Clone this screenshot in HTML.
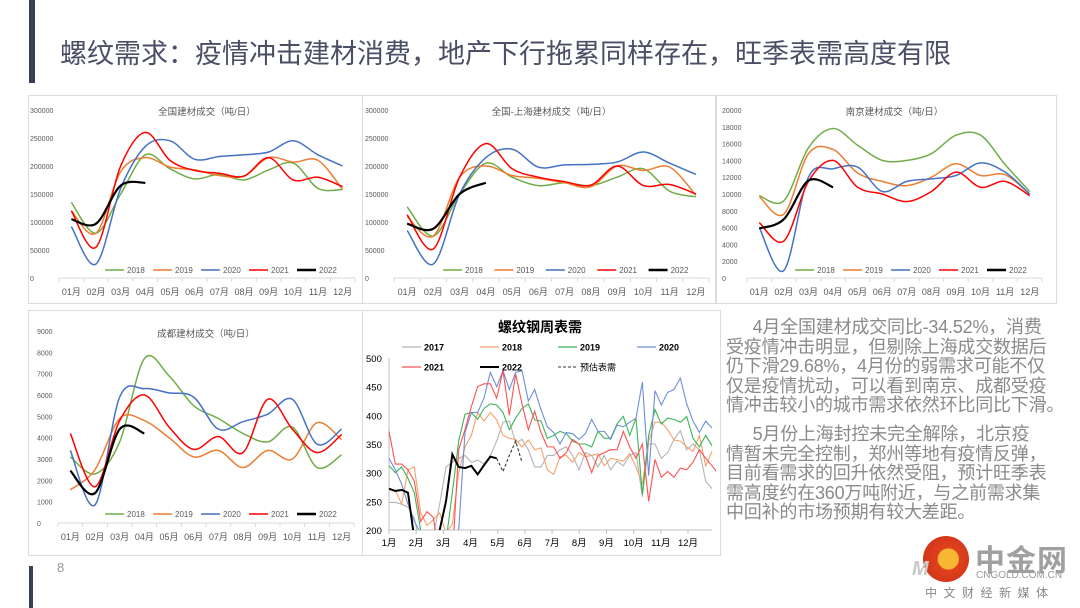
<!DOCTYPE html>
<html><head><meta charset="utf-8">
<style>
body{margin:0;width:1080px;height:608px;background:#fff;overflow:hidden;position:relative;font-family:"Liberation Sans","Noto Sans CJK SC",sans-serif}
.abs{position:absolute}
#title{left:60px;top:32px;font-size:27px;color:#4a4f66;white-space:nowrap;font-family:"Liberation Sans","Noto Sans CJK SC",sans-serif}
#txt{left:726px;top:318px;font-size:18px;line-height:19.6px;color:#8a8a8a;white-space:nowrap;letter-spacing:-0.2px}
.panel{position:absolute;border:1px solid #dcdcdc;background:#fff}
</style></head><body>
<div class="abs" style="left:29px;top:0;width:6px;height:83px;background:#3a3f58"></div>
<div class="abs" style="left:29px;top:566px;width:4px;height:42px;background:#3a3f58"></div>
<div id="title" class="abs">螺纹需求：疫情冲击建材消费，地产下行拖累同样存在，旺季表需高度有限</div>
<div class="panel" style="left:28px;top:95px;width:333px;height:207px"></div>
<div class="panel" style="left:362px;top:95px;width:352px;height:207px"></div>
<div class="panel" style="left:716px;top:95px;width:339px;height:207px"></div>
<div class="panel" style="left:28px;top:310px;width:333px;height:244px"></div>
<div class="panel" style="left:362px;top:310px;width:357px;height:244px"></div>
<svg class="abs" id="svg" style="left:0;top:0" width="1080" height="608"></svg>
<div id="txt" class="abs">&emsp;&ensp;4月全国建材成交同比-34.52%，消费<br>受疫情冲击明显，但剔除上海成交数据后<br>仍下滑29.68%，4月份的弱需求可能不仅<br>仅是疫情扰动，可以看到南京、成都受疫<br>情冲击较小的城市需求依然环比同比下滑。<div style="height:9px"></div>&emsp;&ensp;5月份上海封控未完全解除，北京疫<br>情暂未完全控制，郑州等地有疫情反弹，<br>目前看需求的回升依然受阻，预计旺季表<br>需高度约在360万吨附近，与之前需求集<br>中回补的市场预期有较大差距。</div>
<div class="abs" style="left:57px;top:560px;font-size:13px;color:#999">8</div>
<div class="abs" style="left:923px;top:536px;width:46px;height:46px;border-radius:50%;background:radial-gradient(circle at 55% 50%,#f7b733 0 30%,#e0401c 32%,#c8301a 100%)"></div>
<div class="abs" style="left:912px;top:558px;font-size:20px;font-weight:bold;font-style:italic;color:#c9c9c9">M</div>
<div class="abs" style="left:975px;top:536px;font-size:30px;font-weight:bold;color:#a0a0a0;letter-spacing:1px">中金网</div>
<div class="abs" style="left:976px;top:570px;font-size:10px;color:#999">CNGOLD.COM.CN</div>
<div class="abs" style="left:925px;top:584px;font-size:12px;color:#888;letter-spacing:6.5px">中文财经新媒体</div>
<script>
const months=["01月","02月","03月","04月","05月","06月","07月","08月","09月","10月","11月","12月"];
const years=["2018","2019","2020","2021","2022"];
const colors=["#70ad47","#ed7d31","#4472c4","#ff0000","#000000"];
const natTicks=[0,50000,100000,150000,200000,250000,300000];
const nat2018=[135,80,150,220,195,177,185,175,193,205,160,158];
const nat2019=[120,80,190,215,198,193,183,182,215,207,210,158];
const nat2020=[92,25,160,235,245,212,217,220,225,245,220,200];
const nat2021=[120,55,200,260,210,192,187,182,215,175,180,163];
const nat2022=[105,97,165,170];
const exs2018=[127,75,150,205,180,165,170,165,180,195,155,145];
const exs2019=[110,75,180,200,183,178,170,163,200,192,198,148];
const exs2020=[85,25,150,215,230,198,202,203,207,225,205,185];
const exs2021=[113,52,180,240,195,180,172,166,200,165,167,150];
const exs2022=[97,88,150,170];
const njTicks=[0,2000,4000,6000,8000,10000,12000,14000,16000,18000,20000];
const nj2018=[9.8,9.2,15.5,17.8,15.8,14.0,14.0,14.8,17.0,17.0,13.5,10.3];
const nj2019=[9.7,7.6,14.8,15.3,12.5,11.5,11.0,12.0,13.6,12.2,12.3,10.0];
const nj2020=[6.0,0.9,12.0,13.0,13.2,10.3,11.5,11.8,12.2,13.7,12.6,10.0];
const nj2021=[6.6,4.4,11.5,14.0,10.8,10.0,9.1,10.3,12.6,10.8,11.5,9.8];
const nj2022=[5.9,7.0,11.6,10.8];
const cdTicks=[0,1000,2000,3000,4000,5000,6000,7000,8000,9000];
const cd2018=[3.1,2.3,3.8,7.7,6.9,5.5,4.9,4.2,3.8,4.5,2.6,3.2];
const cd2019=[1.55,2.5,4.9,4.8,4.0,3.1,3.4,2.6,3.4,3.0,4.7,3.9];
const cd2020=[3.4,0.85,5.9,6.3,6.1,5.9,4.4,4.75,5.1,5.8,3.7,4.4];
const cd2021=[4.2,1.7,4.8,6.0,4.5,3.45,4.05,3.3,5.8,4.4,3.3,4.15];
const cd2022=[2.45,1.4,4.4,4.2];
// weekly chart
const wkMonths=["1月","2月","3月","4月","5月","6月","7月","8月","9月","10月","11月","12月"];
const wkTicks=[200,250,300,350,400,450,500];
const wkNames=["2017","2018","2019","2020","2021","2022"];
const wkColors=["#b4b4b4","#f4a26b","#3cb55a","#6f8fd4","#ff5050","#000000"];
const w2017=[248,248,245,240,220,170,175,190,245,310,318,325,330,318,322,315,330,355,388,390,352,358,340,310,310,330,330,340,345,330,305,335,330,310,330,305,320,312,330,335,258,350,350,325,335,358,373,340,350,340,285,272];
const w2018=[270,270,245,305,310,230,208,218,230,195,210,300,345,365,405,390,405,392,365,360,358,345,357,340,343,305,297,328,330,318,335,328,330,333,312,325,323,320,333,310,280,355,388,388,375,357,355,345,337,365,312,337];
const w2019=[312,300,310,290,265,200,160,130,120,180,265,355,402,405,393,412,420,418,405,375,395,412,420,392,390,360,365,372,368,355,350,350,345,372,360,360,385,398,365,395,262,365,410,385,395,393,388,398,360,345,365,347];
const w2020=[325,305,280,245,215,195,150,120,100,120,150,200,370,405,405,430,475,450,478,445,475,478,425,445,410,380,370,350,370,368,358,368,393,372,372,358,383,380,388,395,458,295,443,418,440,445,465,420,390,370,390,378];
const w2021=[372,315,315,305,285,215,232,222,150,100,150,340,375,415,450,455,455,430,478,400,472,420,375,407,370,345,345,325,335,358,350,330,300,330,335,340,340,372,345,325,350,250,323,292,302,292,308,305,318,340,325,312,298];
const w2022=[272,268,270,265,185,150,120,100,200,250,332,310,308,312,297,313,328,325];
const wFcst=[325,302,330,355,318];

const NS="http://www.w3.org/2000/svg";
const svg=document.getElementById('svg');
function mk(tag,attrs,parent){const e=document.createElementNS(NS,tag);for(const k in attrs)e.setAttribute(k,attrs[k]);(parent||svg).appendChild(e);return e;}
function smooth(pts){let d="M"+pts[0][0]+","+pts[0][1];for(let i=0;i<pts.length-1;i++){const p0=pts[i-1]||pts[i],p1=pts[i],p2=pts[i+1],p3=pts[i+2]||p2;const t=6;d+=" C"+(p1[0]+(p2[0]-p0[0])/t)+","+(p1[1]+(p2[1]-p0[1])/t)+" "+(p2[0]-(p3[0]-p1[0])/t)+","+(p2[1]-(p3[1]-p1[1])/t)+" "+p2[0]+","+p2[1];}return d;}
function txt(x,y,s,size,fill,anchor,parent,extra){const t=mk('text',Object.assign({x:x,y:y,'font-size':size,fill:fill,'text-anchor':anchor||'start','font-family':'Liberation Sans, Noto Sans CJK SC, sans-serif'},extra||{}),parent);t.textContent=s;return t;}

function monthly(cfg){
  const g=mk('g',{});
  
  
  const bw=(cfg.x1-cfg.x0)/12;
  const X=i=>cfg.x0+bw*(i+0.5);
  const Y=v=>cfg.yb-(v/cfg.max)*(cfg.yb-cfg.yt);
  cfg.ticks.forEach(t=>{const l=txt(cfg.lx,Y(t)+3,String(t),7,'#595959','start',g);});
  mk('line',{x1:cfg.x0,y1:cfg.yb,x2:cfg.x1,y2:cfg.yb,stroke:'#d9d9d9','stroke-width':1},g);
  for(let i=0;i<=12;i++)mk('line',{x1:cfg.x0+bw*i,y1:cfg.yb,x2:cfg.x0+bw*i,y2:cfg.yb+4,stroke:'#d9d9d9'},g);
  months.forEach((m,i)=>{const l=txt(X(i),cfg.yb+17,m,9,'#595959','middle',g);});
  const tt=txt((cfg.x0+cfg.x1)/2,cfg.ty,cfg.title,9.5,'#595959','middle',g);
  
  cfg.series.forEach((s,k)=>{
    const p=mk('path',{d:smooth(s.map((v,i)=>[X(i),Y(v*cfg.unit)])),fill:'none',stroke:colors[k],'stroke-width':k==4?2.2:1.5},g);
    
    
  });
  const lw=(cfg.legX1-cfg.legX0)/5;
  years.forEach((y,k)=>{const lx=cfg.legX0+lw*k;
    const ln=mk('line',{x1:lx,y1:cfg.legY,x2:lx+19,y2:cfg.legY,stroke:colors[k],'stroke-width':k==4?2.5:1.6},g);
    
    const lt=txt(lx+22,cfg.legY+3,y,8,'#595959','start',g);});
}
monthly({name:'chart-national',title:'全国建材成交（吨/日）',x0:59,x1:355,yt:110,yb:278,max:300000,unit:1000,ticks:natTicks,lx:30,ty:115,legX0:105,legX1:345,legY:270,series:[nat2018,nat2019,nat2020,nat2021,nat2022]});
monthly({name:'chart-ex-shanghai',title:'全国-上海建材成交（吨/日）',x0:394,x1:709,yt:110,yb:278,max:300000,unit:1000,ticks:natTicks,lx:365,ty:115,legX0:443,legX1:700,legY:270,series:[exs2018,exs2019,exs2020,exs2021,exs2022]});
monthly({name:'chart-nanjing',title:'南京建材成交（吨/日）',x0:747,x1:1042,yt:110,yb:278,max:20000,unit:1000,ticks:njTicks,lx:722,ty:115,legX0:795,legX1:1035,legY:270,series:[nj2018,nj2019,nj2020,nj2021,nj2022]});
monthly({name:'chart-chengdu',title:'成都建材成交（吨/日）',x0:58,x1:354,yt:331,yb:523,max:9000,unit:1000,ticks:cdTicks,lx:37,ty:337,legX0:105,legX1:345,legY:514,series:[cd2018,cd2019,cd2020,cd2021,cd2022]});

// weekly chart
(function(){
  const g=mk('g',{});
  
  
  const x0=389,x1=712,yt=358,yb=530;
  const X=i=>x0+i*(x1-x0)/51;
  const Y=v=>yb-(v-200)/300*(yb-yt);
  const defs=mk('defs',{},g);const cp=mk('clipPath',{id:'wclip'},defs);mk('rect',{x:x0-2,y:yt-30,width:x1-x0+6,height:yb-yt+30},cp);
  wkTicks.forEach(t=>{const l=txt(366,Y(t)+4,String(t),9.5,'#000','start',g);});
  mk('line',{x1:x0,y1:yt,x2:x0,y2:yb,stroke:'#bfbfbf'},g);
  mk('line',{x1:x0,y1:yb,x2:x1,y2:yb,stroke:'#bfbfbf'},g);
  const mstep=(688-389)/11;
  wkMonths.forEach((m,i)=>{const mx=x0+i*mstep;mk('line',{x1:mx,y1:yb,x2:mx,y2:yb+4,stroke:'#bfbfbf'},g);const l=txt(mx,yb+16,m,9.5,'#000','middle',g);});
  const tt=txt(540,332,'螺纹钢周表需',14,'#000','middle',g,{'font-weight':'bold'});
  
  const cg=mk('g',{'clip-path':'url(#wclip)'},g);
  [w2017,w2018,w2019,w2020,w2021,w2022].forEach((s,k)=>{
    const p=mk('polyline',{points:s.map((v,i)=>X(i)+','+Y(v)).join(' '),fill:'none',stroke:wkColors[k],'stroke-width':k==5?2:1.1},cg);
    
    
  });
  const st=w2022.length-1;
  const f=mk('polyline',{points:wFcst.map((v,i)=>X(st+i)+','+Y(v)).join(' '),fill:'none',stroke:'#333','stroke-width':1.1,'stroke-dasharray':'3,2'},cg);
  
  
  const leg=[[402,347],[480,347],[558,347],[637,347],[402,367],[480,367]];
  wkNames.forEach((n,k)=>{const [lx,ly]=leg[k];
    const ln=mk('line',{x1:lx,y1:ly,x2:lx+19,y2:ly,stroke:wkColors[k],'stroke-width':k==5?2:1.2},g);
    
    const lt=txt(lx+22,ly+3.5,n,9,'#000','start',g,{'font-weight':'bold'});});
  const fl=mk('line',{x1:558,y1:367,x2:577,y2:367,stroke:'#333','stroke-dasharray':'3,2'},g);
  
  const ft=txt(580,370.5,'预估表需',9,'#000','start',g);
})();
</script>
</body></html>
